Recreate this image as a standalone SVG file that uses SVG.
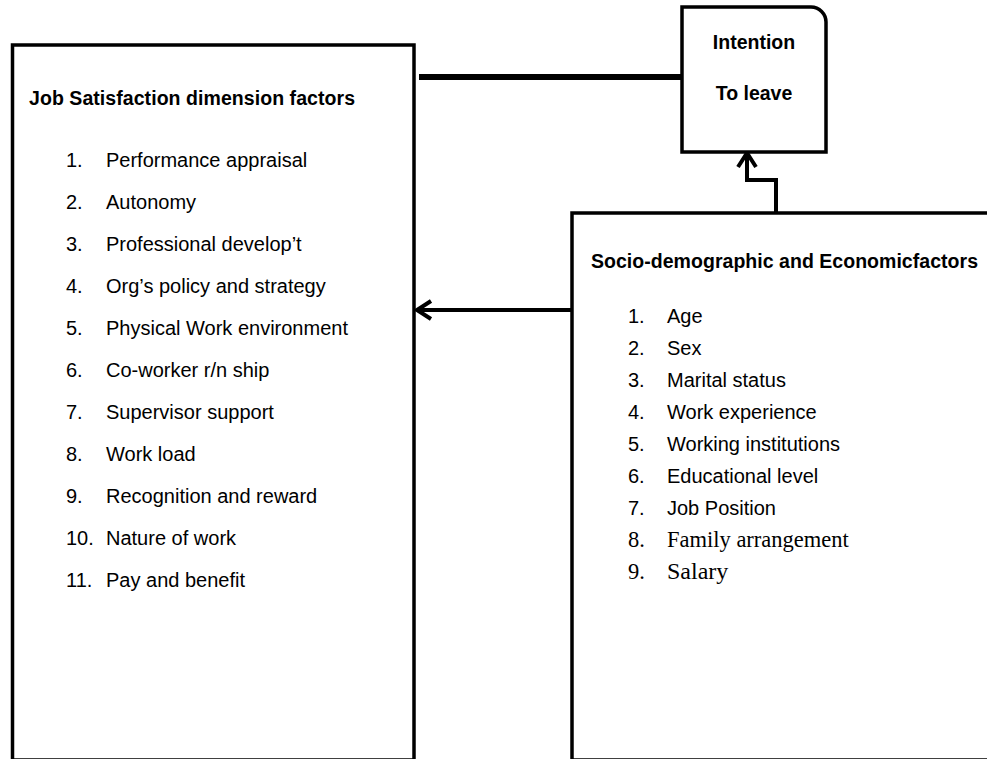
<svg xmlns="http://www.w3.org/2000/svg" width="987" height="759" viewBox="0 0 987 759">
<style>
.box{fill:#fff;stroke:#000;stroke-width:3.5}
.t{font-family:"Liberation Sans",Arial,sans-serif;font-size:20px;fill:#000}
.b{font-family:"Liberation Sans",Arial,sans-serif;font-size:19.5px;font-weight:bold;fill:#000}
.s{font-family:"Liberation Serif","Times New Roman",serif;font-size:22.5px;fill:#000}
.c{fill:none;stroke:#000;stroke-width:4}
</style>
<defs>
<marker id="arr" markerUnits="userSpaceOnUse" markerWidth="30" markerHeight="30" viewBox="-20 -15 30 30" refX="0" refY="0" orient="auto" overflow="visible">
<path d="M-14,-9 L0,0 L-14,9" fill="none" stroke="#000" stroke-width="4"/>
</marker>
</defs>
<rect width="987" height="759" fill="#fff"/>
<g id="connectors">
<line x1="419" y1="77" x2="682" y2="77" stroke="#000" stroke-width="6"/>
<polyline class="c" points="776,213 776,180 747,180 747,153" marker-end="url(#arr)"/>
<line class="c" x1="572" y1="310" x2="417" y2="310" marker-end="url(#arr)"/>
</g>
<g id="job-satisfaction">
<rect class="box" x="12.5" y="45" width="401.5" height="715"/>
<text class="b" x="29" y="105" textLength="326">Job Satisfaction dimension factors</text>
<g class="t">
<text x="66" y="167">1.</text><text x="106" y="167">Performance appraisal</text>
<text x="66" y="209">2.</text><text x="106" y="209">Autonomy</text>
<text x="66" y="251">3.</text><text x="106" y="251">Professional develop’t</text>
<text x="66" y="293">4.</text><text x="106" y="293">Org’s policy and strategy</text>
<text x="66" y="335">5.</text><text x="106" y="335">Physical Work environment</text>
<text x="66" y="377">6.</text><text x="106" y="377">Co-worker r/n ship</text>
<text x="66" y="419">7.</text><text x="106" y="419">Supervisor support</text>
<text x="66" y="461">8.</text><text x="106" y="461">Work load</text>
<text x="66" y="503">9.</text><text x="106" y="503">Recognition and reward</text>
<text x="66" y="545">10.</text><text x="106" y="545">Nature of work</text>
<text x="66" y="587">11.</text><text x="106" y="587">Pay and benefit</text>
</g>
</g>
<g id="intention">
<path class="box" d="M682,7 H811 A15,15 0 0 1 826,22 V152 H682 Z"/>
<text class="b" x="754" y="49" text-anchor="middle">Intention</text>
<text class="b" x="754" y="100" text-anchor="middle">To leave</text>
</g>
<g id="socio-demographic">
<rect class="box" x="572" y="213" width="430" height="547"/>
<text class="b" x="591" y="268" textLength="387">Socio-demographic and Economicfactors</text>
<g class="t">
<text x="628" y="323">1.</text><text x="667" y="323">Age</text>
<text x="628" y="355">2.</text><text x="667" y="355">Sex</text>
<text x="628" y="387">3.</text><text x="667" y="387">Marital status</text>
<text x="628" y="419">4.</text><text x="667" y="419">Work experience</text>
<text x="628" y="451">5.</text><text x="667" y="451">Working institutions</text>
<text x="628" y="483">6.</text><text x="667" y="483">Educational level</text>
<text x="628" y="515">7.</text><text x="667" y="515">Job Position</text>
</g>
<text class="s" x="628" y="547">8.</text><text class="s" x="667" y="547">Family arrangement</text>
<text class="s" x="628" y="579">9.</text><text class="s" x="667" y="579" style="font-size:24px">Salary</text>
</g>
</svg>
